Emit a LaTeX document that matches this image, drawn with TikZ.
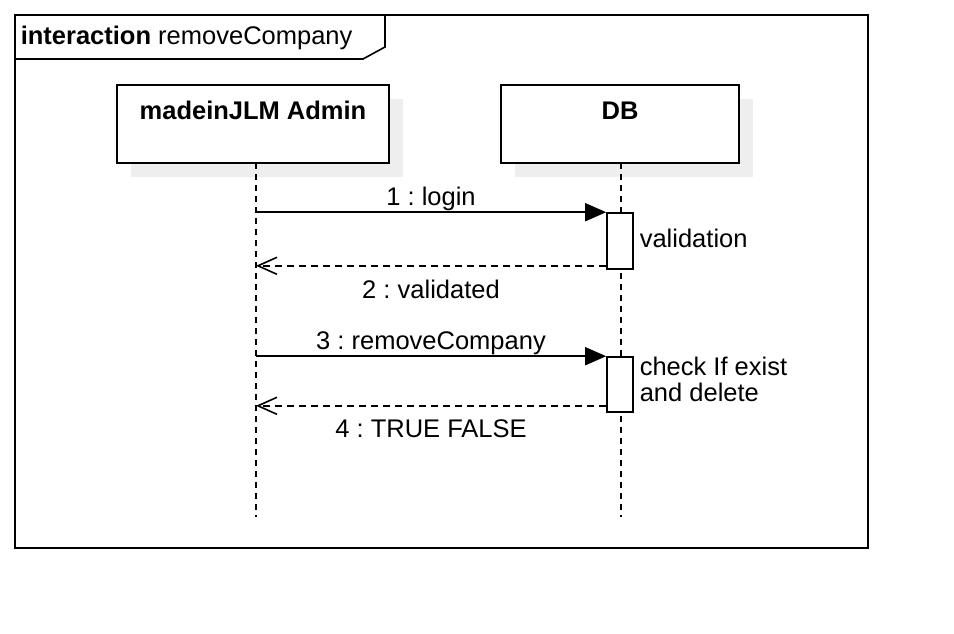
\documentclass[tikz,border=0pt]{standalone}
\usepackage{fontspec}
\setmainfont{Liberation Sans}
\usepackage{tikz}
\usepackage{xcolor}
\usetikzlibrary{arrows.meta, positioning}
\definecolor{shadowgray}{HTML}{EEEEEE}
\frenchspacing

\begin{document}
\begin{tikzpicture}[x=1pt, y=-1pt, line width=1.6pt,
    every node/.style={font=\fontsize{25.5}{26}\selectfont, inner sep=0pt},
    head/.style={draw, fill=white, minimum height=78pt},
    act/.style={draw, fill=white, minimum width=26pt},
    lifeline/.style={dash pattern=on 6pt off 5pt},
    call/.style={-{Triangle[length=21pt, width=18pt]}},
    reply/.style={dash pattern=on 7pt off 5pt, -{Straight Barb[length=19pt, width=17pt]}},
    msg/.style={anchor=base}]
\useasboundingbox (0,0) rectangle (954,634);
% Frame with its name tab
\draw (15,15) rectangle (868,548);
\draw (15,59) -- (363,59) -- (385,47) -- (385,15);
\node[anchor=base west] (title) at (20,45) {\textbf{interaction} removeCompany};
% Lifeline heads, shadow first
\fill[shadowgray] (131,99) rectangle (403,177);
\fill[shadowgray] (515,99) rectangle (753,177);
\node[head, minimum width=272pt] (admin) at (253,124) {};
\node[head, minimum width=238pt] (db) at (620,124) {};
\node[msg] (adminname) at (253,119) {\textbf{madeinJLM Admin}};
\node[msg] (dbname) at (620,119) {\textbf{DB}};
% Lifelines
\coordinate (admintop) at (256,163);
\coordinate (adminend) at (256,517);
\coordinate (dbtop) at (621,163);
\coordinate (dbend) at (621,517);
\draw[lifeline] (admintop) -- (adminend);
\draw[lifeline] (dbtop) -- (dbend);
% Activations on DB
\node[act, minimum height=56pt] (act1) at (620,241) {};
\node[act, minimum height=55pt] (act2) at (620,384.5) {};
\node[anchor=base west] (valid) at (639,247) {validation};
\node[anchor=north west, align=left] (check) at (639,356) {check If exist\\and delete};
% Messages
\coordinate (ret1) at ([yshift=4pt]act1.south west);
\coordinate (ret2) at ([yshift=7pt]act2.south west);
\draw[call] (admintop |- act1.north west) -- (act1.north west);
\draw[reply] (ret1) -- (admintop |- ret1);
\draw[call] (admintop |- act2.north west) -- (act2.north west);
\draw[reply] (ret2) -- (admintop |- ret2);
\node[msg] (m1) at (431,205) {1 : login};
\node[msg] (m2) at (431,298) {2 : validated};
\node[msg] (m3) at (431,349) {3 : removeCompany};
\node[msg] (m4) at (431,437) {4 : TRUE FALSE};
\end{tikzpicture}
\end{document}
